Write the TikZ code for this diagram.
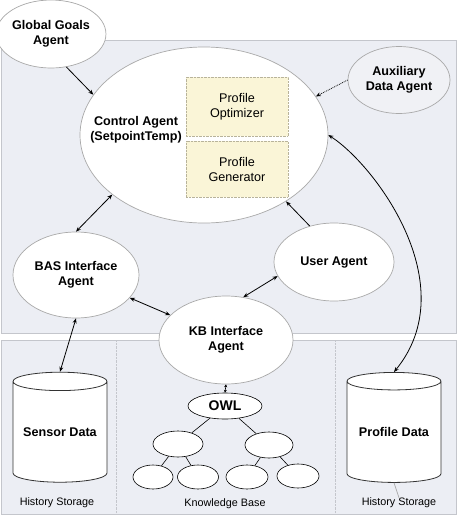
\documentclass[tikz,border=0pt]{standalone}
\usepackage{fontspec}
\setmainfont{Liberation Sans}
\usetikzlibrary{shapes.geometric,arrows.meta}
\definecolor{panel}{HTML}{ECEEF4}
\definecolor{panelline}{HTML}{C4C6CC}
\definecolor{ell}{HTML}{A9A9A9}
\definecolor{boxfill}{HTML}{FAF5D7}
\definecolor{boxline}{HTML}{B8B39A}
\definecolor{auxfill}{HTML}{F0F1F5}
\begin{document}
\begin{tikzpicture}[x=1pt,y=-1pt,
  agent/.style={ellipse, draw=ell, line width=0.7pt, fill=white, inner sep=0pt, align=center,
    font=\fontsize{12.6}{15}\selectfont\bfseries},
  subbox/.style={rectangle, draw=boxline, densely dotted, fill=boxfill, inner sep=0pt,
    minimum width=102pt, align=center, font=\fontsize{12.6}{15}\selectfont, text=black},
  tnode/.style={ellipse, draw=black, fill=white, line width=0.6pt, inner sep=0pt},
  arr/.style={-{Stealth[length=5pt,width=4pt]}, line width=0.8pt},
  darr/.style={{Stealth[length=5pt,width=4pt]}-{Stealth[length=5pt,width=4pt]}, line width=0.8pt},
  db/.style={cylinder, shape border rotate=90, draw=black!80, fill=white, line width=0.8pt,
    aspect=0.25, minimum width=94pt, minimum height=110pt, inner sep=0pt,
    font=\fontsize{12.6}{15}\selectfont\bfseries},
  lbl/.style={font=\fontsize{10.8}{12}\selectfont, inner sep=0pt},
]
\useasboundingbox (0,0) rectangle (458,517);
\fill[white] (0,0) rectangle (458,517);
% panels
\draw[panelline, fill=panel, line width=0.8pt] (1,40) rectangle (456,333);
\draw[panelline, fill=panel, line width=0.8pt] (1,340) rectangle (456,514);
\draw[panelline, densely dotted] (116,340) -- (116,514);
\draw[panelline, densely dotted] (335,340) -- (335,514);

% agents
\node[agent, minimum width=102pt, minimum height=68pt] (gg) at (51,34) {Global Goals\\Agent};
\node[agent, minimum width=248pt, minimum height=176pt] (ctrl) at (204,135) {};
\node[font=\fontsize{12.6}{15}\selectfont\bfseries, align=center, inner sep=0pt] (ctrltxt) at (136,130) {Control Agent\\(SetpointTemp)};
\node[subbox, minimum height=59pt] (opt) at (237,106.5) {Profile\\Optimizer};
\node[subbox, minimum height=56pt] (gen) at (237,169) {Profile\\Generator};
\node[agent, fill=auxfill, minimum width=102pt, minimum height=67pt] (aux) at (399,80) {Auxiliary\\Data Agent};
\node[agent, minimum width=126pt, minimum height=86pt] (bas) at (76,275) {BAS Interface\\Agent};
\node[agent, minimum width=120pt, minimum height=78pt] (user) at (334,262) {User Agent};
\node[agent, minimum width=134pt, minimum height=88pt] (kb) at (226,340) {KB Interface\\Agent};

% databases
\node[db] (sensor) at (60,432) {Sensor Data};
\node[db] (profile) at (394,432) {Profile Data};
\node[lbl] (hs1) at (57,503) {History Storage};
\node[lbl] (hs2) at (399,503) {History Storage};
\node[lbl] (kbl) at (225,504) {Knowledge Base};

% ontology tree
\node[tnode, minimum width=74pt, minimum height=26pt, font=\fontsize{14}{16}\selectfont\bfseries] (owl) at (225,406) {OWL};
\node[tnode, minimum width=50pt, minimum height=26pt] (t1) at (178,444) {};
\node[tnode, minimum width=48pt, minimum height=26pt] (t2) at (269,445) {};
\node[tnode, minimum width=40pt, minimum height=24pt] (t11) at (153,477) {};
\node[tnode, minimum width=41pt, minimum height=24pt] (t12) at (198,477) {};
\node[tnode, minimum width=42pt, minimum height=24pt] (t21) at (247,477) {};
\node[tnode, minimum width=42pt, minimum height=24pt] (t22) at (298,476) {};
\draw[line width=0.6pt] (owl) -- (t1);
\draw[line width=0.6pt] (owl) -- (t2);
\draw[line width=0.6pt] (t1) -- (t11);
\draw[line width=0.6pt] (t1) -- (t12);
\draw[line width=0.6pt] (t2) -- (t21);
\draw[line width=0.6pt] (t2) -- (t22);

% connectors
\draw[arr] (gg.-65) -- (ctrl.160);
\draw[arr, densely dotted] (aux.180) -- (ctrl.19);
\draw[darr] (ctrl.0) .. controls (375,165) and (465,285) .. (profile.north);
\draw[darr] (ctrl.213) -- (bas.north);
\draw[arr] (user.124) -- (ctrl.-39);
\draw[darr] (user.194) -- (kb.68);
\draw[darr] (bas.-23) -- (kb.156);
\draw[darr] (bas.south) -- (sensor.north);
\draw[{Stealth[length=3pt,width=3pt]}-{Stealth[length=3pt,width=3pt]}, line width=0.6pt] (kb.south) -- (owl.north);
\draw[ell, line width=0.7pt] (profile.south) -- (hs2.north);
\end{tikzpicture}
\end{document}
